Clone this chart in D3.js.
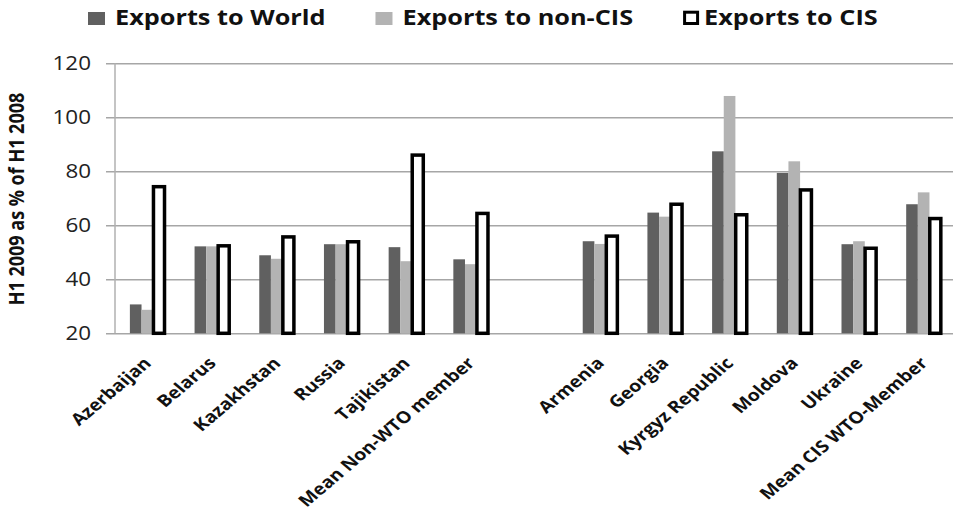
<!DOCTYPE html>
<html>
<head>
<meta charset="utf-8">
<script src="https://cdn.jsdelivr.net/npm/d3@7"></script>
<style>
  body { margin: 0; background: #fff; }
  svg { display: block; font-family: "Open Sans", sans-serif; }
</style>
</head>
<body>
<svg id="chart" width="953" height="510"></svg>
<script>
// categories (the blank one is the gap between the two country groups)
const categories = ["Azerbaijan", "Belarus", "Kazakhstan", "Russia", "Tajikistan", "Mean Non-WTO member", "",
    "Armenia", "Georgia", "Kyrgyz Republic", "Moldova", "Ukraine", "Mean CIS WTO-Member"];
const seriesNames = ["Exports to World", "Exports to non-CIS", "Exports to CIS"];
const toWorld  = [30.7, 52.2, 48.9, 53.0, 51.9, 47.4, null, 54.1, 64.7, 87.4, 79.4, 53.0, 67.8];
const toNonCIS = [28.7, 52.2, 47.6, 53.0, 46.7, 45.6, null, 53.1, 63.2, 107.9, 83.7, 54.1, 72.2];
const toCIS    = [74.3, 52.4, 55.7, 53.9, 86.0, 64.4, null, 56.0, 67.8, 63.9, 73.1, 51.5, 62.5];
const yTicks = [20, 40, 60, 80, 100, 120];

// the original picture is stretched a bit horizontally, so the text is too
const sx = 1.15;

let svg = d3.select("#chart");

let plotLeft = 115, plotRight = 956, plotTop = 63.3, plotBottom = 333.3;

let x0 = d3.scaleBand().domain(categories).range([plotLeft, plotRight]).paddingInner(0.46).paddingOuter(0.23);
let x1 = d3.scaleBand().domain(seriesNames).range([0, x0.bandwidth()]);
let y = d3.scaleLinear().domain([20, 120]).range([plotBottom, plotTop]);

// gridlines + y tick labels
let yAxis = svg.append("g")
    .attr("transform", "translate(106,0)")
    .call(d3.axisLeft(y).tickValues(yTicks).tickSize(-(953 - 106)).tickPadding(15));
yAxis.select(".domain").remove();
yAxis.selectAll(".tick line").attr("stroke", "#a6a6a6").attr("stroke-width", 1.5);
yAxis.selectAll(".tick text")
    .attr("x", -15 / sx)
    .attr("transform", "scale(" + sx + ",1)")
    .attr("font-size", 19.5)
    .attr("font-family", "Open Sans")
    .attr("fill", "#222");

// vertical axis line
svg.append("line")
    .attr("x1", plotLeft).attr("x2", plotLeft)
    .attr("y1", y(120)).attr("y2", y(20))
    .attr("stroke", "#b0b0b0").attr("stroke-width", 1.5);

// bars
let rows = categories.map((c, i) => ({cat: c, vals: [toWorld[i], toNonCIS[i], toCIS[i]]}))
    .filter(d => d.cat !== "");

let groups = svg.append("g").selectAll("g")
    .data(rows)
    .enter().append("g")
    .attr("transform", d => "translate(" + x0(d.cat) + ",0)");

groups.selectAll("rect")
    .data(d => d.vals.map((v, j) => ({name: seriesNames[j], v: v})))
    .enter().append("rect")
    .attr("x", d => d.name === "Exports to CIS" ? x1(d.name) + 0.3 : x1(d.name))
    .attr("width", d => d.name === "Exports to CIS" ? x1.bandwidth() - 0.6 : x1.bandwidth())
    .attr("y", d => y(d.v))
    .attr("height", d => y(20) - y(d.v))
    .attr("fill", d => d.name === "Exports to World" ? "#606060" : d.name === "Exports to non-CIS" ? "#b3b3b3" : "#fff")
    .attr("stroke", d => d.name === "Exports to CIS" ? "#000" : "none")
    .attr("stroke-width", 3.5);

// category labels
let xAxis = svg.append("g")
    .attr("transform", "translate(0," + plotBottom + ")")
    .call(d3.axisBottom(x0).tickSize(0));
xAxis.select(".domain").remove();
xAxis.selectAll(".tick text")
    .attr("x", 0).attr("y", 0).attr("dy", 0)
    .attr("text-anchor", "end")
    .attr("transform", "translate(5,31) scale(1.18,1) rotate(-45)")
    .attr("font-size", 16.5)
    .attr("font-weight", "bold")
    .attr("font-family", "Open Sans")
    .attr("fill", "#111");

// y axis title
svg.append("text")
    .attr("transform", "translate(24,199) scale(" + sx + ",1) rotate(-90)")
    .attr("text-anchor", "middle")
    .attr("font-size", 18)
    .attr("font-weight", "bold")
    .attr("fill", "#111")
    .text("H1 2009 as % of H1 2008");

// legend
let lx = 88;
seriesNames.forEach(function(name, i) {
    if (i < 2) {
        svg.append("rect")
            .attr("x", lx).attr("y", 12).attr("width", 17).attr("height", 13)
            .attr("fill", i === 0 ? "#606060" : "#b3b3b3");
        lx += 27;
    } else {
        svg.append("rect")
            .attr("x", lx + 1.5).attr("y", 12.2).attr("width", 13).attr("height", 11.3)
            .attr("fill", "#fff").attr("stroke", "#000").attr("stroke-width", 3);
        lx += 21;
    }
    let t = svg.append("text")
        .attr("transform", "translate(" + lx + ",25) scale(" + sx + ",1)")
        .attr("font-size", 22)
        .attr("font-weight", "bold")
        .attr("fill", "#111")
        .text(name);
    lx += t.node().getComputedTextLength() * sx + 50;
});
</script>
</body>
</html>
